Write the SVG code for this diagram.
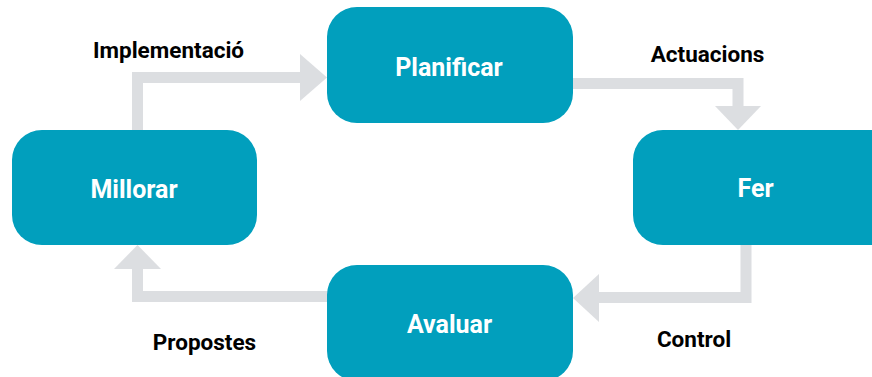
<svg xmlns="http://www.w3.org/2000/svg" width="872" height="377" viewBox="0 0 872 377">
  <style>
    .box { fill: #019fbd; }
    .node-label { font-family: Roboto, "Liberation Sans", sans-serif; font-weight: 700; font-size: 25px; fill: #ffffff; text-anchor: middle; }
    .edge-label { font-family: Roboto, "Liberation Sans", sans-serif; font-weight: 700; font-size: 22.5px; fill: #000000; text-anchor: middle; }
    .shaft { fill: none; stroke: #dcdee1; stroke-width: 11; stroke-linejoin: miter; }
    .head { fill: #dcdee1; }
  </style>
  <rect width="872" height="377" fill="#ffffff"/>

  <!-- connectors: shafts plus triangular heads -->
  <g id="connectors">
    <g id="edge-implementacio">
      <polyline class="shaft" points="137.5,131 137.5,77.5 301,77.5"/>
      <polygon class="head" points="300,54 327,77.5 300,101"/>
    </g>
    <g id="edge-actuacions">
      <polyline class="shaft" points="572,83.5 738,83.5 738,107"/>
      <polygon class="head" points="715,106 761,106 738,130"/>
    </g>
    <g id="edge-control">
      <polyline class="shaft" points="746,244 746,297.5 598,297.5"/>
      <polygon class="head" points="599,274 573,298 599,322"/>
    </g>
    <g id="edge-propostes">
      <polyline class="shaft" points="328,296.5 137.5,296.5 137.5,268"/>
      <polygon class="head" points="114,269 161,269 137.5,245"/>
    </g>
    <text class="edge-label" x="168.5" y="58">Implementació</text>
    <text class="edge-label" x="707.5" y="62">Actuacions</text>
    <text class="edge-label" x="694" y="347">Control</text>
    <text class="edge-label" x="204.5" y="350">Propostes</text>
  </g>

  <g id="node-planificar">
    <rect class="box" x="327" y="7" width="246" height="116" rx="30"/>
    <text class="node-label" x="449" y="76">Planificar</text>
  </g>
  <g id="node-fer">
    <rect class="box" x="633" y="130" width="270" height="115" rx="30"/>
    <text class="node-label" x="755.5" y="197">Fer</text>
  </g>
  <g id="node-avaluar">
    <rect class="box" x="327" y="265" width="246" height="116" rx="30"/>
    <text class="node-label" x="449.5" y="333">Avaluar</text>
  </g>
  <g id="node-millorar">
    <rect class="box" x="12" y="130" width="245" height="115" rx="30"/>
    <text class="node-label" x="134" y="198">Millorar</text>
  </g>
</svg>
